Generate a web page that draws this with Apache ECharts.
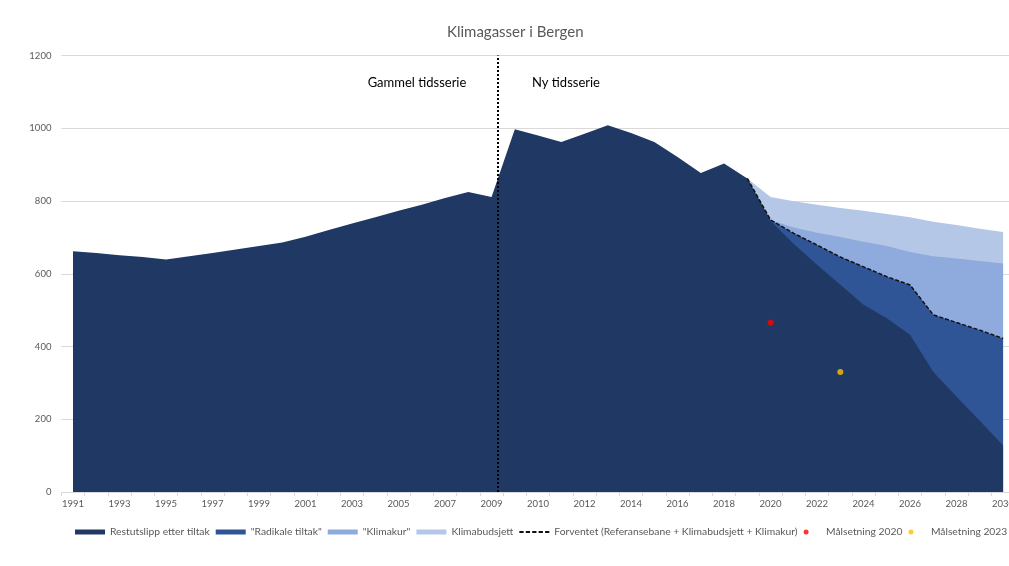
<!DOCTYPE html>
<html>
<head>
<meta charset="utf-8">
<script src="https://cdn.jsdelivr.net/npm/echarts@6/dist/echarts.min.js"></script>
<style>
html,body{margin:0;padding:0;background:#fff;}
#chart{width:1009px;height:566px;}
</style>
</head>
<body>
<div id="chart"></div>
<script>
// Categories: old series 1991-2009, then new series starting again at 2009
const categories = ['1991','1992','1993','1994','1995','1996','1997','1998','1999','2000',
  '2001','2002','2003','2004','2005','2006','2007','2008','2009',
  '2009','2010','2011','2012','2013','2014','2015','2016','2017','2018','2019',
  '2020','2021','2022','2023','2024','2025','2026','2027','2028','2029','2030'];

const yTicks = [0, 200, 400, 600, 800, 1000, 1200];

// Restutslipp etter tiltak (whole period)
const restutslipp = [662,657,651,646,639,648,657,667,676,686,
  702,720,738,755,773,790,808,825,811,
  997,980,962,985,1008,987,962,921,877,903,862,
  745,682,625,570,515,478,432,330,262,196,128];

// Projection years (2019-2030), values are the top edge of each layer
const projYears = ['2019','2020','2021','2022','2023','2024','2025','2026','2027','2028','2029','2030'];
const radikaleTop = [862,748,711,679,646,619,592,569,487,466,445,422];
const klimakurTop = [862,748,727,713,701,688,676,660,648,642,635,628];
const klimabudsjettTop = [862,811,799,790,781,773,764,755,743,734,724,715];
const forventet = [862,748,711,679,646,619,592,569,487,466,445,422];

const malsetning2020 = [['2020', 465]];
const malsetning2023 = [['2023', 330]];

const seriesBreak = 18.25; // between old and new time series

const projStart = categories.lastIndexOf(projYears[0]);
const padProj = arr => categories.map((c, i) => i < projStart ? null : arr[i - projStart]);

const FONT = 'Lato, "Open Sans", sans-serif';
const names = {
  rest: 'Restutslipp etter tiltak',
  rad: '"Radikale tiltak"',
  kk: '"Klimakur"',
  kb: 'Klimabudsjett',
  fv: 'Forventet (Referansebane + Klimabudsjett + Klimakur)',
  m20: 'Målsetning 2020',
  m23: 'Målsetning 2023'
};
const areaSeries = (name, data, color) => ({
  name, type: 'line', data, showSymbol: false, symbol: 'none',
  lineStyle: { width: 0, color }, itemStyle: { color },
  areaStyle: { color, opacity: 1 }, emphasis: { disabled: true }
});
const dashIcon = 'path://M0 0H4V2H0Z M6 0H10V2H6Z M12 0H16V2H12Z M18 0H22V2H18Z M24 0H28V2H24Z';

const chart = echarts.init(document.getElementById('chart'));
chart.setOption({
  animation: false,
  backgroundColor: '#fff',
  textStyle: { fontFamily: FONT },
  title: {
    text: 'Klimagasser i Bergen', left: 442, top: 20,
    textStyle: { fontSize: 15, fontWeight: 'normal', color: '#595959', fontFamily: FONT }
  },
  grid: { left: 61.4, width: 953.3, top: 55.5, bottom: 74, containLabel: false, outerBoundsMode: 'none' },
  xAxis: [{
    type: 'category', data: categories, boundaryGap: true,
    axisLine: { lineStyle: { color: '#D9D9D9' } },
    axisTick: { show: true, interval: 0, length: 4, lineStyle: { color: '#D9D9D9' } },
    axisLabel: { interval: 1, color: '#595959', fontSize: 9.5, margin: 7, fontFamily: FONT, hideOverlap: false }
  }, {
    type: 'value', min: -0.5, max: categories.length - 0.5, show: false
  }],
  yAxis: {
    type: 'value', min: yTicks[0], max: yTicks[yTicks.length - 1], interval: 200,
    axisLine: { show: false }, axisTick: { show: false },
    axisLabel: { color: '#595959', fontSize: 9.5, margin: 10, fontFamily: FONT, formatter: v => String(v) },
    splitLine: { lineStyle: { color: '#D9D9D9' } }
  },
  legend: {
    left: 70, top: 522, itemWidth: 30, itemHeight: 5, itemGap: 6,
    textStyle: { color: '#595959', fontSize: 10.3, fontFamily: FONT },
    data: [
      { name: names.rest, icon: 'rect' },
      { name: names.rad, icon: 'rect' },
      { name: names.kk, icon: 'rect' },
      { name: names.kb, icon: 'rect' },
      { name: names.fv, icon: dashIcon },
      { name: names.m20, icon: 'circle' },
      { name: names.m23, icon: 'circle' }
    ]
  },
  graphic: [
    { type: 'text', x: 417, y: 83, silent: true,
      style: { text: 'Gammel tidsserie', textAlign: 'center', textVerticalAlign: 'middle', font: '13px ' + FONT, fill: '#000' } },
    { type: 'text', x: 566, y: 83, silent: true,
      style: { text: 'Ny tidsserie', textAlign: 'center', textVerticalAlign: 'middle', font: '13px ' + FONT, fill: '#000' } }
  ],
  series: [
    areaSeries(names.kb, padProj(klimabudsjettTop), '#B4C7E7'),
    areaSeries(names.kk, padProj(klimakurTop), '#8FAADC'),
    areaSeries(names.rad, padProj(radikaleTop), '#2F5597'),
    areaSeries(names.rest, restutslipp, '#203864'),
    {
      name: names.fv, type: 'line', data: padProj(forventet), symbol: 'none', showSymbol: false,
      lineStyle: { color: '#111', width: 1.5, type: [4, 2] }, itemStyle: { color: '#111' },
      emphasis: { disabled: true }
    },
    {
      name: names.m20, type: 'scatter', data: malsetning2020, symbolSize: 6,
      itemStyle: { color: '#FF0000' }, z: 5
    },
    {
      name: names.m23, type: 'scatter', data: malsetning2023, symbolSize: 6,
      itemStyle: { color: '#FFC000' }, z: 5
    },
    {
      type: 'line', xAxisIndex: 1, data: [], silent: true,
      markLine: {
        silent: true, symbol: ['none', 'none'], label: { show: false },
        lineStyle: { color: '#000', width: 2, type: [2, 2] },
        data: [{ xAxis: seriesBreak }]
      }, z: 6
    }
  ]
});
</script>
</body>
</html>
